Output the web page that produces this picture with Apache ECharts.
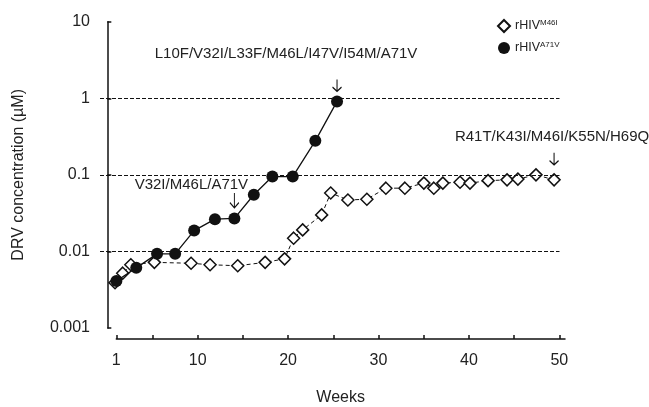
<!DOCTYPE html>
<html>
<head>
<meta charset="utf-8">
<script src="https://cdn.jsdelivr.net/npm/echarts@6/dist/echarts.min.js"></script>
<style>
html,body{margin:0;padding:0;background:#fff;}
#chart{width:649px;height:407px;}
</style>
</head>
<body>
<div id="chart"></div>
<script>
// ---- data ----
const weeksM46I = [0.85,1.7,2.6,5.2,9.26,11.36,14.42,17.45,19.6,20.6,21.6,23.7,24.7,26.6,28.7,30.8,32.9,35.0,36.1,37.1,39.0,40.1,42.1,44.2,45.4,47.4,49.4];
const valuesM46I = [0.0039,0.0052,0.0067,0.0072,0.0070,0.0067,0.0065,0.0072,0.0080,0.0149,0.0191,0.030,0.058,0.047,0.048,0.067,0.067,0.078,0.067,0.078,0.080,0.078,0.084,0.086,0.088,0.100,0.086];
const weeksA71V = [1.0,3.2,5.5,7.5,9.6,11.9,14.05,16.2,18.25,20.5,23.0,25.4];
const valuesA71V = [0.0041,0.0061,0.0093,0.0093,0.0187,0.0264,0.027,0.055,0.095,0.095,0.278,0.91];
const xTickValues = [1,5,10,15,20,25,30,35,40,45,50];
const xLabelValues = [1,10,20,30,40,50];
const yTickLabels = ['0.001','0.01','0.1','1','10'];
const refLines = [0.01,0.1,1];
const seriesNames = ['M46I','A71V'];
const annA71VLate = 'L10F/V32I/L33F/M46L/I47V/I54M/A71V';
const annA71VEarly = 'V32I/M46L/A71V';
const annM46I = 'R41T/K43I/M46I/K55N/H69Q';

const FONT = '"Liberation Sans", Arial, Helvetica, sans-serif';
const TXT = '#222';
const arrowPath = 'path://M5,0 L5,13 M0.6,8.4 L5,13 L9.4,8.4';

function pairs(xs, ys){ return xs.map((x,i)=>[x, ys[i]]); }

function arrow(x, y, size, off){
  return {coord:[x,y], symbol:arrowPath, symbolSize:size, symbolOffset:[0,off],
    itemStyle:{color:'transparent', borderColor:'#111', borderWidth:1.2}, label:{show:false}};
}
function note(x, y, text, dx, dy){
  return {coord:[x,y], symbol:'circle', symbolSize:1, itemStyle:{color:'transparent'},
    label:{show:true, position:'inside', formatter:text, offset:[dx,dy], color:TXT,
      fontSize:15, fontFamily:FONT}};
}

const nA = weeksA71V.length - 1;
const nM = weeksM46I.length - 1;

const option = {
  animation:false,
  backgroundColor:'#fff',
  textStyle:{fontFamily:FONT},
  grid:[
    {left:100, top:21.7, width:459.5, height:306.3},
    {left:116.3, top:300, width:448.7, height:39}
  ],
  xAxis:[
    {gridIndex:0, type:'value', min:-0.81, max:50, show:false},
    {gridIndex:1, type:'value', min:1, max:50.63,
      axisLine:{show:true, lineStyle:{color:'#111', width:1.5}},
      axisTick:{show:true, inside:true, length:4, customValues:xTickValues, lineStyle:{color:'#111', width:1.5}},
      axisLabel:{show:true, customValues:xLabelValues, margin:14, color:TXT, fontSize:16, fontFamily:FONT},
      splitLine:{show:false},
      name:'Weeks', nameLocation:'middle', nameGap:51,
      nameTextStyle:{color:TXT, fontSize:16, fontFamily:FONT}
    }
  ],
  yAxis:[
    {gridIndex:0, type:'log', logBase:10, min:0.001, max:10,
      axisLine:{show:true, lineStyle:{color:'#111', width:1.5}},
      axisTick:{show:true, inside:true, length:4, lineStyle:{color:'#111', width:1.5}},
      axisLabel:{show:true, margin:10, color:TXT, fontSize:16, fontFamily:FONT,
        formatter:(v,i)=>yTickLabels[i]},
      splitLine:{show:false}, minorTick:{show:false},
      name:'DRV concentration (\u00b5M)', nameLocation:'middle', nameGap:73,
      nameTextStyle:{color:TXT, fontSize:16, fontFamily:FONT}
    },
    {gridIndex:1, type:'value', show:false}
  ],
  legend:{
    orient:'vertical', left:492, top:14, itemWidth:12, itemHeight:12, itemGap:8,
    data:[{name:seriesNames[0], icon:'diamond'},{name:seriesNames[1], icon:'circle'}],
    formatter:name=>'{b|rHIV}{s|'+name+'}',
    textStyle:{color:TXT, fontFamily:FONT,
      rich:{b:{fontSize:12.5, fontFamily:FONT, color:TXT, lineHeight:14},
            s:{fontSize:8, fontFamily:FONT, color:TXT, verticalAlign:'top', lineHeight:14}}}
  },
  series:[
    {type:'line', xAxisIndex:0, yAxisIndex:0, data:[], z:1, silent:true,
      markLine:{silent:true, symbol:['none','none'], label:{show:false},
        lineStyle:{color:'#111', type:[4,2], width:1},
        data:refLines.map(v=>({yAxis:v}))}},
    {name:seriesNames[0], type:'line', xAxisIndex:0, yAxisIndex:0, z:3,
      data:pairs(weeksM46I, valuesM46I),
      symbol:'diamond', symbolSize:12,
      itemStyle:{color:'#fff', borderColor:'#111', borderWidth:1.5},
      lineStyle:{color:'#111', width:1, type:[4,3]},
      emphasis:{disabled:true},
      markPoint:{silent:true, data:[
        arrow(weeksM46I[nM], valuesM46I[nM], [9,12], -21),
        note(weeksM46I[nM], valuesM46I[nM], annM46I, -2, -43)
      ]}
    },
    {name:seriesNames[1], type:'line', xAxisIndex:0, yAxisIndex:0, z:4,
      data:pairs(weeksA71V, valuesA71V),
      symbol:'circle', symbolSize:12,
      itemStyle:{color:'#111', borderColor:'#111', borderWidth:0},
      lineStyle:{color:'#111', width:1.3},
      emphasis:{disabled:true},
      markPoint:{silent:true, data:[
        arrow(weeksA71V[nA], valuesA71V[nA], [9,12], -16),
        note(weeksA71V[nA], valuesA71V[nA], annA71VLate, -51, -48),
        arrow(weeksA71V[6], valuesA71V[6], [9,15], -18),
        note(weeksA71V[6], valuesA71V[6], annA71VEarly, -43, -34)
      ]}
    }
  ]
};
const chart = echarts.init(document.getElementById('chart'), null, {renderer:'canvas'});
chart.setOption(option);
</script>
</body>
</html>
